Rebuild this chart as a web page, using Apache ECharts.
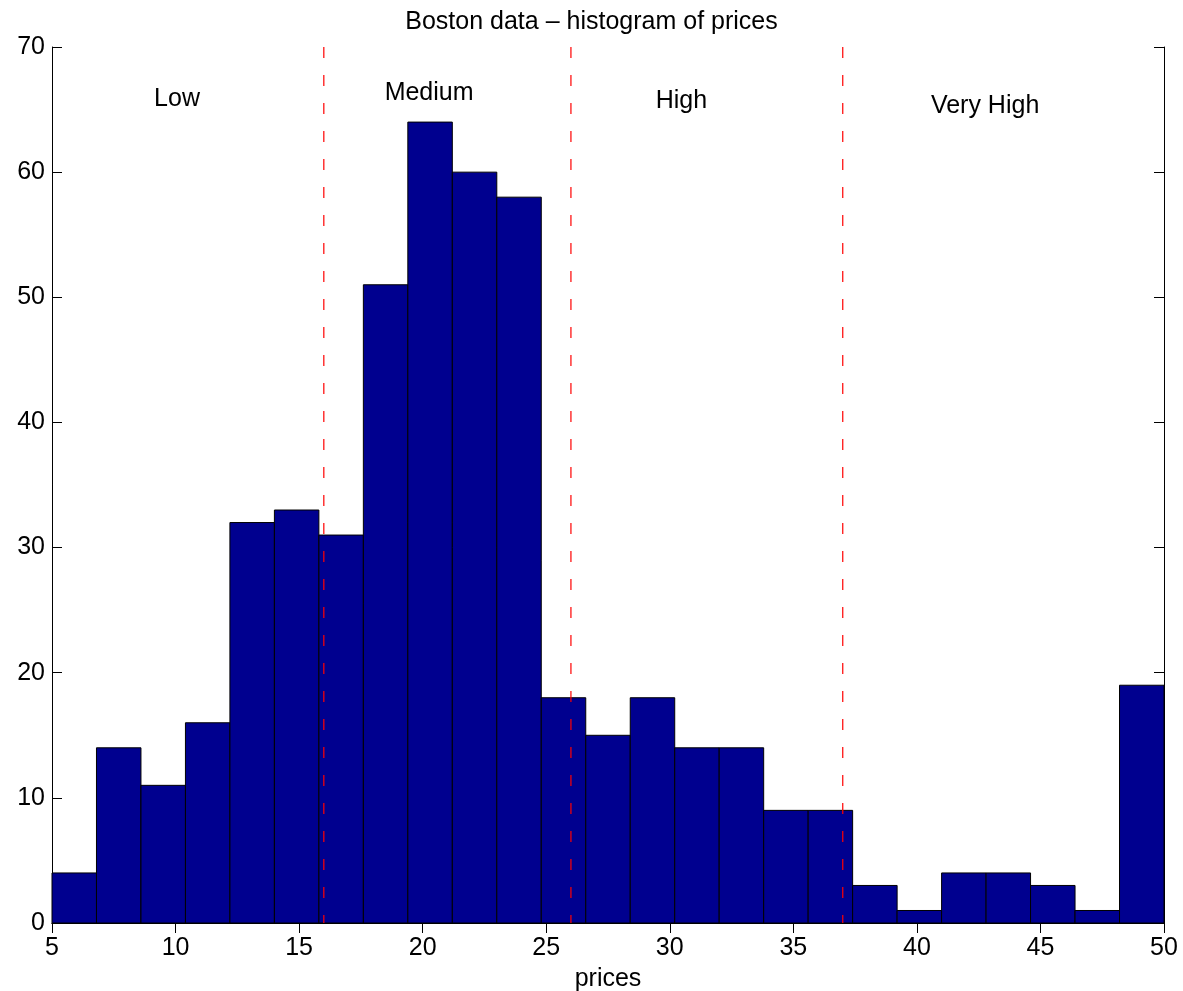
<!DOCTYPE html>
<html>
<head>
<meta charset="utf-8">
<script src="https://cdn.jsdelivr.net/npm/echarts@6/dist/echarts.min.js"></script>
<style>
html,body{margin:0;padding:0;background:#fff;}
#chart{width:1183px;height:991px;}
</style>
</head>
<body>
<div id="chart"></div>
<script>
// Histogram: 25 bins from 5 to 50
var binStart = 5;
var binEnd = 50;
var counts = [4, 14, 11, 16, 32, 33, 31, 51, 64, 60, 58, 18, 15, 18, 14, 14, 9, 9, 3, 1, 4, 4, 3, 1, 19];
var xTicks = [5, 10, 15, 20, 25, 30, 35, 40, 45, 50];
var yTicks = [0, 10, 20, 30, 40, 50, 60, 70];
var thresholds = [16, 26, 37];
var regionNames = ['Low', 'Medium', 'High', 'Very High'];
var regionX = [10.06, 20.26, 30.47, 42.76];
var regionY = [65.8, 66.3, 65.7, 65.3];

var binWidth = (binEnd - binStart) / counts.length;
var barData = counts.map(function (c, i) {
  return [binStart + i * binWidth, binStart + (i + 1) * binWidth, c];
});
var labelData = regionNames.map(function (n, i) { return [regionX[i], regionY[i], n]; });
var yMin = yTicks[0], yMax = yTicks[yTicks.length - 1];

var FONT = 'Liberation Sans, Arial, Helvetica, sans-serif';
var FS = 25;
var chart = echarts.init(document.getElementById('chart'), null, {renderer: 'canvas'});

var axisCommon = {
  axisLine: {show: true, lineStyle: {color: '#000', width: 1}},
  axisTick: {show: true, inside: true, length: 10, lineStyle: {color: '#000', width: 1}},
  splitLine: {show: false}
};

chart.setOption({
  animation: false,
  backgroundColor: '#fff',
  title: {
    text: 'Boston data \u2013 histogram of prices',
    left: 'center',
    top: 5,
    textStyle: {fontFamily: FONT, fontSize: FS, fontWeight: 'normal', color: '#000'}
  },
  grid: {left: 52, right: 19, top: 47, bottom: 68, containLabel: false, outerBoundsMode: 'none'},
  xAxis: [
    Object.assign({
      type: 'value', min: xTicks[0], max: xTicks[xTicks.length - 1], interval: 5, position: 'bottom',
      name: 'prices', nameLocation: 'middle', nameGap: 44,
      nameTextStyle: {fontFamily: FONT, fontSize: FS, color: '#000'},
      axisLabel: {fontFamily: FONT, fontSize: FS, color: '#000', margin: 13}
    }, axisCommon),
    Object.assign({
      type: 'value', min: xTicks[0], max: xTicks[xTicks.length - 1], interval: 5, position: 'top',
      axisLabel: {show: false}
    }, axisCommon)
  ],
  yAxis: [
    Object.assign({
      type: 'value', min: yMin, max: yMax, interval: 10, position: 'left',
      axisLabel: {fontFamily: FONT, fontSize: FS, color: '#000', margin: 7}
    }, axisCommon),
    Object.assign({
      type: 'value', min: yMin, max: yMax, interval: 10, position: 'right',
      axisLabel: {show: false}
    }, axisCommon)
  ],
  series: [
    {
      type: 'custom',
      xAxisIndex: 0, yAxisIndex: 0,
      data: barData,
      renderItem: function (params, api) {
        var p0 = api.coord([api.value(0), api.value(2)]);
        var p1 = api.coord([api.value(1), 0]);
        return {
          type: 'rect',
          shape: {x: p0[0], y: p0[1], width: p1[0] - p0[0], height: p1[1] - p0[1]},
          style: {fill: '#00008F', stroke: '#000', lineWidth: 1}
        };
      },
      z: 2
    },
    {
      type: 'custom',
      xAxisIndex: 0, yAxisIndex: 0,
      data: thresholds.map(function (t) { return [t]; }),
      renderItem: function (params, api) {
        var a = api.coord([api.value(0), yMax]);
        var b = api.coord([api.value(0), yMin]);
        return {
          type: 'line',
          shape: {x1: a[0], y1: a[1], x2: b[0], y2: b[1]},
          style: {stroke: '#FF0000', lineWidth: 1.2, lineDash: [11, 17]}
        };
      },
      z: 5
    },
    {
      type: 'custom',
      xAxisIndex: 0, yAxisIndex: 0,
      data: labelData,
      renderItem: function (params, api) {
        var p = api.coord([api.value(0), api.value(1)]);
        return {
          type: 'text',
          x: p[0], y: p[1],
          style: {
            text: labelData[params.dataIndex][2],
            fontFamily: FONT, fontSize: FS, fill: '#000',
            align: 'center', verticalAlign: 'middle'
          }
        };
      },
      z: 6
    }
  ]
});
</script>
</body>
</html>
